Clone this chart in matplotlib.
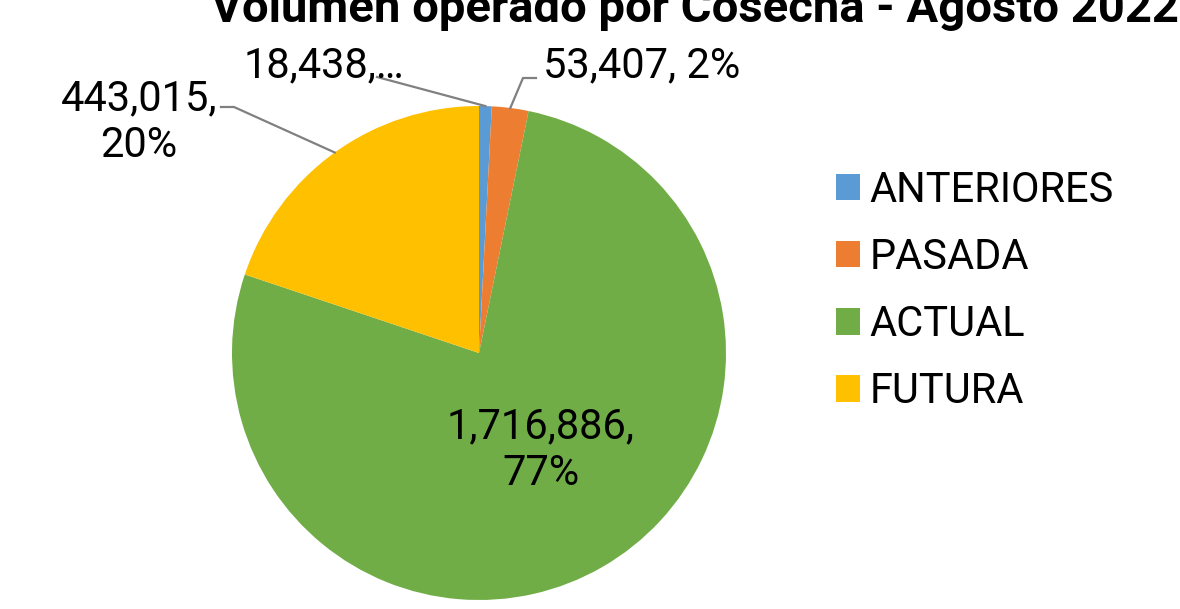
import matplotlib
matplotlib.use("Agg")
import matplotlib.pyplot as plt
import numpy as np

plt.rcParams["font.family"] = ["Roboto", "DejaVu Sans"]

# data
categories = ["ANTERIORES", "PASADA", "ACTUAL", "FUTURA"]
volumes = [18438, 53407, 1716886, 443015]
colors = ["#5B9BD5", "#ED7D31", "#70AD47", "#FFC000"]
title = "Volumen operado por Cosecha - Agosto 2022"

W, H = 1180, 609
fig = plt.figure(figsize=(W / 100, H / 100), dpi=100)

# pie centre (479, 353) px, radius 247 px
cx, cy, r = 479, 353, 247
ax = fig.add_axes([(cx - r) / W, (H - cy - r) / H, 2 * r / W, 2 * r / H])
wedges, _ = ax.pie(volumes, colors=colors, startangle=90, counterclock=False,
                   radius=1, wedgeprops=dict(linewidth=0))
ax.set_xlim(-1, 1)
ax.set_ylim(-1, 1)
ax.set_aspect("equal")
ax.axis("off")

total = sum(volumes)
pcts = [v / total * 100 for v in volumes]
labels = [f"{volumes[0]:,},…",
          f"{volumes[1]:,}, {pcts[1]:.0f}%",
          f"{volumes[2]:,},\n{pcts[2]:.0f}%",
          f"{volumes[3]:,},\n{pcts[3]:.0f}%"]


def px(x, y):
    """pixel position in the picture -> pie data units"""
    return (x - cx) / r, (cy - y) / r


def edge(w):
    ang = np.deg2rad((w.theta1 + w.theta2) / 2)
    return np.cos(ang), np.sin(ang)


fs = 30
lc = "#808080"
txt = dict(fontsize=fs, color="black", clip_on=False)

# ANTERIORES - label up left, straight leader (truncated label like the original)
tx, ty = px(404, 77)
ax.text(tx, ty, labels[0], ha="right", va="baseline", **txt)
ex, ey = edge(wedges[0])
lx, ly = px(377, 77)
ax.plot([ex, lx], [ey, ly], color=lc, lw=1.6, clip_on=False)

# PASADA - label up right, elbow leader
tx, ty = px(543, 77)
ax.text(tx, ty, labels[1], ha="left", va="baseline", **txt)
ex, ey = edge(wedges[1])
lx, ly = px(536, 78)
kx, _ = px(523, 78)
ax.plot([ex, kx, lx], [ey, ly, ly], color=lc, lw=1.6, clip_on=False)

# ACTUAL - label inside the slice
tx, ty = px(541, 485)
ax.text(tx, ty, labels[2], ha="center", va="baseline", linespacing=1.19, **txt)

# FUTURA - label left, elbow leader
tx, ty = px(139, 157)
ax.text(tx, ty, labels[3], ha="center", va="baseline", linespacing=1.19, **txt)
ex, ey = edge(wedges[3])
lx, ly = px(221, 107)
kx, _ = px(234, 107)
ax.plot([ex, kx, lx], [ey, ly, ly], color=lc, lw=1.6, clip_on=False)

fig.text(695 / W, 1 - 22 / H, title, ha="center", va="baseline",
         fontsize=34, fontweight="bold")

leg = fig.legend(wedges, categories, loc="center left",
                 bbox_to_anchor=(836 / W, 1 - 291 / H), frameon=False,
                 fontsize=fs, handlelength=0.58, handleheight=0.6,
                 handletextpad=0.22, labelspacing=0.63,
                 borderpad=0, borderaxespad=0)

fig.savefig("out.png", dpi=100, facecolor="white")
